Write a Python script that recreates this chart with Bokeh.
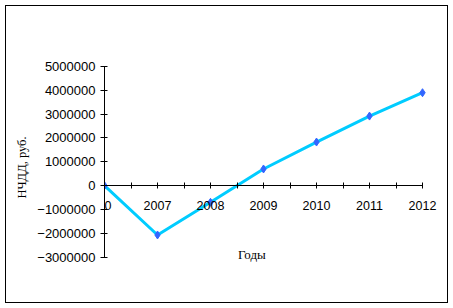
from bokeh.plotting import figure
from bokeh.models import FixedTicker, Range1d, Label
from bokeh.embed import file_html
from bokeh.resources import INLINE

categories = ["0", "2007", "2008", "2009", "2010", "2011", "2012"]
npv = [0, -2070000, -700000, 700000, 1830000, 2920000, 3900000]
y_ticks = [-3000000, -2000000, -1000000, 0, 1000000, 2000000, 3000000, 4000000, 5000000]

xs = list(range(len(categories)))

# frame: left 104, right 446, top 66, bottom 268 ; x=0 at 104 px, 53 px/category ; y=0 at 185 px, 23.875 px per million
p = figure(width=453, height=308, output_backend="svg", toolbar_location=None,
           x_range=Range1d(0, 342 / 53), y_range=Range1d(-83 / 23.875 * 1e6, 5000000),
           min_border_left=104, min_border_right=7, min_border_top=66, min_border_bottom=40,
           x_axis_location="below", y_axis_location="left")
p.grid.visible = False
p.outline_line_color = None
p.background_fill_alpha = 0
p.border_fill_alpha = 0
p.styles = {"box-shadow": "inset 0 0 0 5px white, inset 0 0 0 6px black", "background-color": "white"}

p.line(xs, npv, line_color="#00CCFF", line_width=3)
p.scatter(xs, npv, marker="diamond", size=8, fill_color="#3366FF", line_color="#3366FF")

xa = p.xaxis[0]
xa.fixed_location = 0
xa.bounds = (0, len(categories) - 1)
xa.ticker = FixedTicker(ticks=xs, minor_ticks=[i + 0.5 for i in xs[:-1]])
xa.major_label_overrides = {i: c for i, c in zip(xs, categories)}
xa.major_label_overrides[0] = "\u00a0\u00a0" + categories[0]
xa.major_tick_in = 3
xa.major_tick_out = 3
xa.minor_tick_in = 3
xa.minor_tick_out = 3
xa.major_label_standoff = 10
xa.major_label_text_font = "Liberation Sans"
xa.major_label_text_font_size = "12.5px"
xa.major_label_text_color = "black"
xa.axis_line_color = "black"
xa.major_tick_line_color = "black"
xa.minor_tick_line_color = "black"

ya = p.yaxis[0]
ya.bounds = (-3000000, 5000000)
ya.ticker = FixedTicker(ticks=y_ticks, minor_ticks=[])
ya.formatter.use_scientific = False
ya.major_tick_in = 3
ya.major_tick_out = 4
ya.major_label_standoff = 5
ya.major_label_text_font = "Liberation Sans"
ya.major_label_text_font_size = "13px"
ya.major_label_text_color = "black"
ya.axis_label = "НЧДД, руб."
ya.axis_label_text_font = "Liberation Serif"
ya.axis_label_text_font_size = "12.5px"
ya.axis_label_text_font_style = "normal"
ya.axis_label_text_color = "black"
ya.axis_label_standoff = 5
ya.axis_line_color = "black"
ya.major_tick_line_color = "black"

p.add_layout(Label(x=2.78, y=-2890000, text="Годы", text_font="Liberation Serif",
                   text_font_size="13px", text_align="center", text_baseline="middle",
                   text_color="black"))

open("out.html", "w").write(file_html(p, INLINE))
